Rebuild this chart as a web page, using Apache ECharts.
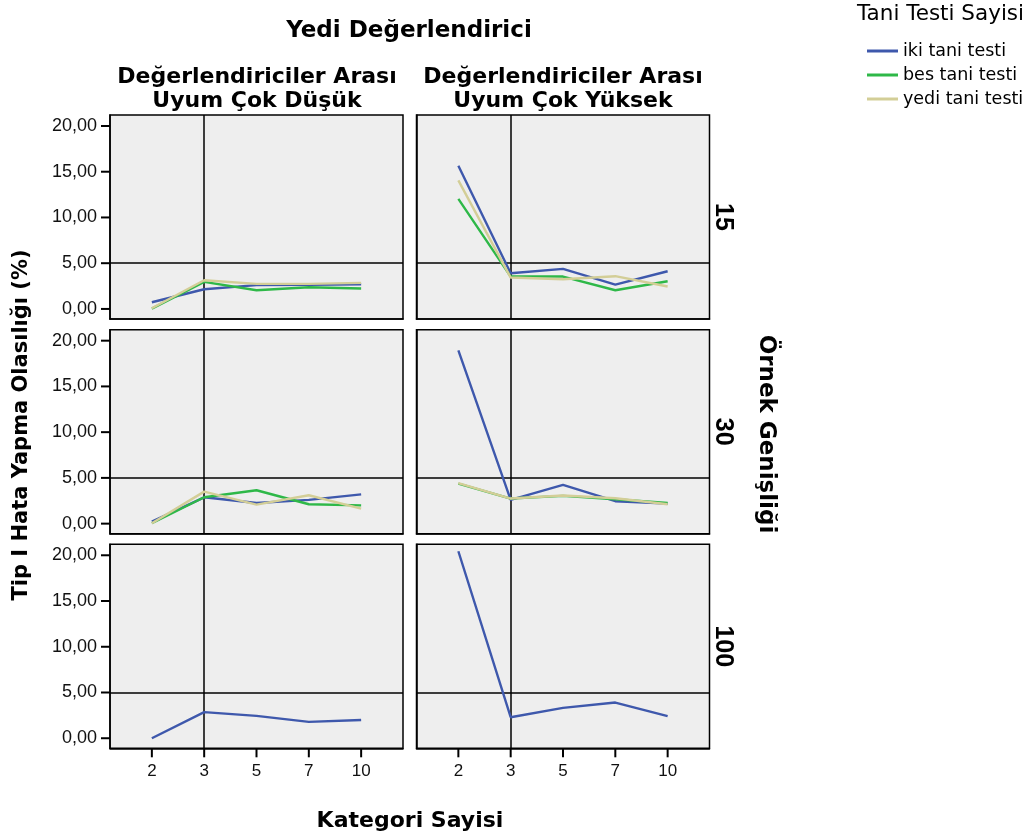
<!DOCTYPE html>
<html><head><meta charset="utf-8">
<script src="https://cdn.jsdelivr.net/npm/echarts@6/dist/echarts.min.js"></script>
<style>html,body{margin:0;padding:0;background:#fff}#c{width:1032px;height:840px}</style>
</head><body><div id="c"></div>
<script>
// ---- data ----
const categories = ['2', '3', '5', '7', '10'];
const seriesNames = ['iki tani testi', 'bes tani testi', 'yedi tani testi'];
const yTicks = [0, 5, 10, 15, 20];
const rowLabels = ['15', '30', '100'];
const colLabels = [['Değerlendiriciler Arası', 'Uyum Çok Düşük'], ['Değerlendiriciler Arası', 'Uyum Çok Yüksek']];

// N=15
const n15_low_iki  = [0.73, 2.15, 2.60, 2.63, 2.70];
const n15_low_bes  = [0.04, 2.96, 2.04, 2.37, 2.23];
const n15_low_yedi = [0.07, 3.14, 2.74, 2.74, 2.85];
const n15_high_iki  = [15.66, 3.90, 4.38, 2.66, 4.12];
const n15_high_bes  = [12.04, 3.54, 3.54, 2.04, 3.03];
const n15_high_yedi = [14.05, 3.43, 3.25, 3.58, 2.45];
// N=30
const n30_low_iki  = [0.22, 2.88, 2.26, 2.60, 3.20];
const n30_low_bes  = [0.04, 2.88, 3.65, 2.12, 2.00];
const n30_low_yedi = [0.04, 3.50, 2.08, 3.10, 1.64];
const n30_high_iki  = [18.94, 2.59, 4.23, 2.45, 2.19];
const n30_high_bes  = [4.38, 2.74, 3.03, 2.66, 2.26];
const n30_high_yedi = [4.42, 2.74, 3.07, 2.77, 2.12];
// N=100
const n100_low_iki  = [0.00, 2.85, 2.45, 1.79, 2.00];
const n100_high_iki = [20.44, 2.30, 3.32, 3.90, 2.41];

const panels = [
  [[n15_low_iki, n15_low_bes, n15_low_yedi], [n15_high_iki, n15_high_bes, n15_high_yedi]],
  [[n30_low_iki, n30_low_bes, n30_low_yedi], [n30_high_iki, n30_high_bes, n30_high_yedi]],
  [[n100_low_iki], [n100_high_iki]]
];

// ---- layout / style ----
const colors = ['#3E58AC', '#2EB848', '#D3CE97'];
const FONT = 'Liberation Sans, Arial, sans-serif';
const WIDE = 'DejaVu Sans, sans-serif';
const colLeft = [110, 416.5];
const rowTop = [115, 329.7, 544.3];
const W = 293, H = 204;

// tick marks drawn together with each label (rich-text boxes)
const yRich = {
  a: {fontSize: 18, color: '#111', fontFamily: FONT, padding: [0, 4, 0, 0], verticalAlign: 'middle'},
  t: {width: 9, height: 2, lineHeight: 2, fontSize: 1, backgroundColor: '#000', verticalAlign: 'middle'}
};
const xRich = {
  t: {width: 2, height: 9, lineHeight: 9, fontSize: 1, backgroundColor: '#000', align: 'center'},
  a: {fontSize: 17, color: '#111', fontFamily: FONT, padding: [6, 0, 0, 0], align: 'center'}
};

const grids = [], xAxes = [], yAxes = [], series = [];
let gi = 0;
for (let r = 0; r < 3; r++) {
  for (let c = 0; c < 2; c++) {
    grids.push({left: colLeft[c], top: rowTop[r], width: W, height: H, show: true,
      backgroundColor: '#EEEEEE', borderColor: '#000', borderWidth: 1.5, containLabel: false});
    const bottom = r === 2;
    xAxes.push({type: 'value', gridIndex: gi, min: -0.8, max: 4.8, position: 'bottom',
      axisLine: {show: true, onZero: false, lineStyle: {color: '#000', width: 1.5}}, splitLine: {show: false},
      axisTick: {show: false},
      axisLabel: {show: bottom, customValues: [0, 1, 2, 3, 4], margin: 0, rich: xRich,
        formatter: v => '{t| }\n{a|' + categories[Math.round(v)] + '}'}});
    const left = c === 0;
    yAxes.push({type: 'value', gridIndex: gi, min: -1.1, max: 21.2, position: 'left',
      axisLine: {show: true, onZero: false, lineStyle: {color: '#000', width: 1.5}}, splitLine: {show: false},
      axisTick: {show: false},
      axisLabel: {show: left, customValues: yTicks.slice(), margin: 0, rich: yRich,
        formatter: v => '{a|' + v.toFixed(2).replace('.', ',') + '}{t| }'}});
    const sets = panels[r][c];
    sets.forEach((vals, si) => {
      const s = {type: 'line', name: seriesNames[si], xAxisIndex: gi, yAxisIndex: gi,
        data: vals.map((v, i) => [i, v]), showSymbol: false, symbol: 'none',
        lineStyle: {color: colors[si], width: 2.4}, itemStyle: {color: colors[si]}, z: 3, silent: true};
      if (si === 0) {
        s.markLine = {silent: true, symbol: 'none', label: {show: false},
          lineStyle: {color: '#000', type: 'solid', width: 1.5}, z: 2,
          data: [{yAxis: 5}, {xAxis: 1}]};
      }
      series.push(s);
    });
    gi++;
  }
}

const bold = {fontFamily: WIDE, fontWeight: 'bold', fontSize: 22, fill: '#000', textAlign: 'center', textVerticalAlign: 'middle'};
const graphic = [
  {type: 'text', x: 409, y: 31, style: Object.assign({}, bold, {text: 'Yedi Değerlendirici', fontSize: 23})},
  {type: 'text', x: 257, y: 77, style: Object.assign({}, bold, {text: colLabels[0][0]})},
  {type: 'text', x: 257, y: 101, style: Object.assign({}, bold, {text: colLabels[0][1]})},
  {type: 'text', x: 563, y: 77, style: Object.assign({}, bold, {text: colLabels[1][0]})},
  {type: 'text', x: 563, y: 101, style: Object.assign({}, bold, {text: colLabels[1][1]})},
  {type: 'text', x: 410, y: 821, style: Object.assign({}, bold, {text: 'Kategori Sayisi'})},
  {type: 'text', x: 22, y: 425, rotation: Math.PI / 2, style: Object.assign({}, bold, {text: 'Tip I Hata Yapma Olasılığı (%)', fontSize: 21})},
  {type: 'text', x: 766, y: 434, rotation: -Math.PI / 2, style: Object.assign({}, bold, {text: 'Örnek Genişliği', fontSize: 23})},
  {type: 'text', x: 857, y: 14, style: {text: 'Tani Testi Sayisi', fontFamily: WIDE, fontSize: 21.5, fill: '#000', textAlign: 'left', textVerticalAlign: 'middle'}}
];
rowLabels.forEach((t, r) => {
  graphic.push({type: 'text', x: 723, y: rowTop[r] + H / 2, rotation: -Math.PI / 2,
    style: Object.assign({}, bold, {text: t, fontFamily: FONT, fontSize: 25})});
});

const chart = echarts.init(document.getElementById('c'), null, {renderer: 'canvas'});
chart.setOption({
  animation: false,
  backgroundColor: '#fff',
  grid: grids, xAxis: xAxes, yAxis: yAxes, series: series,
  legend: {orient: 'vertical', left: 862, top: 37, icon: 'rect', itemWidth: 31, itemHeight: 3, itemGap: 6,
    data: seriesNames.map((n, i) => ({name: n, itemStyle: {color: colors[i]}})),
    textStyle: {fontSize: 17.5, color: '#000', fontFamily: WIDE, padding: [0, 0, 0, 0]}, selectedMode: false},
  graphic: graphic
});
</script></body></html>
